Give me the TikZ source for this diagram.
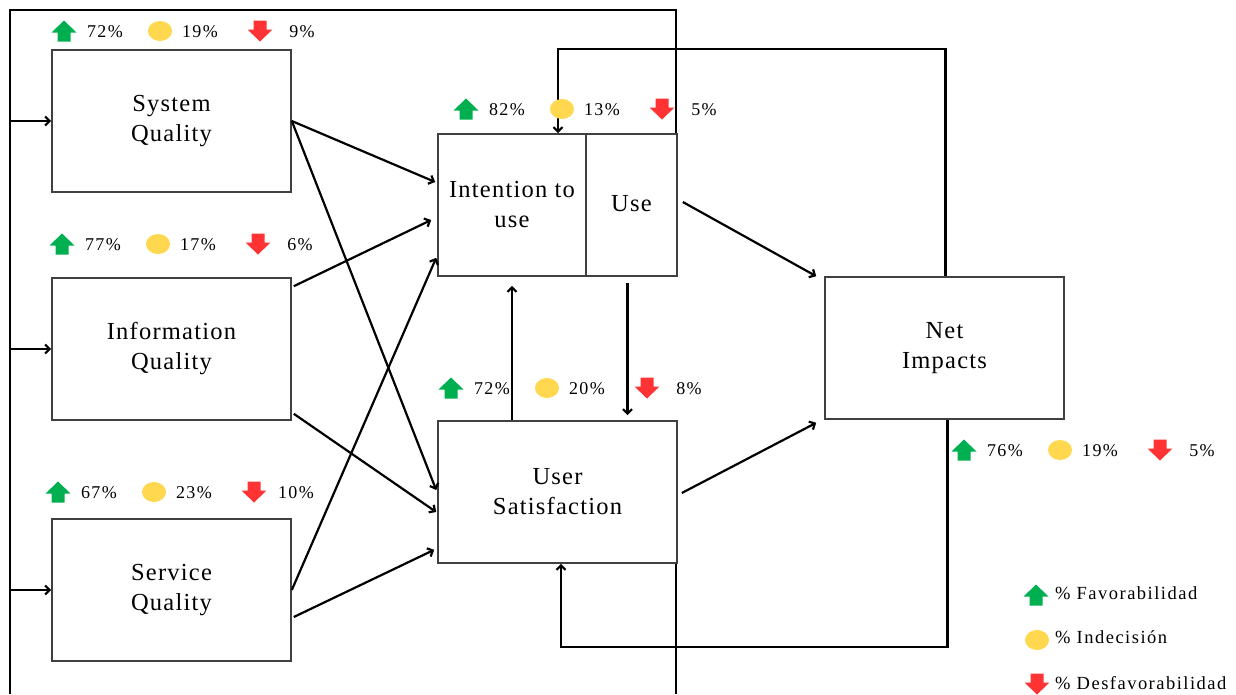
\documentclass[tikz,border=0pt]{standalone}
\usepackage{fontspec}
\setmainfont{Liberation Serif}[LetterSpace=8]
\newfontfamily\boxfont{Liberation Serif}[LetterSpace=5]
\usetikzlibrary{arrows.meta,calc}
\definecolor{upgreen}{HTML}{00B050}
\definecolor{midyellow}{HTML}{FFD850}
\definecolor{downred}{HTML}{FF3333}
\definecolor{boxline}{HTML}{404040}

% one row of survey shares: favourable / undecided / unfavourable
\newcommand\statrow[6]{%
  \pic at (#2,#3) {upicon};
  \node[pct] (#1-fav) at (#2+41,#3+6) {#4\%};
  \pic at (#2+96,#3) {dotpic};
  \node[pct] (#1-ind) at (#2+136,#3+6) {#5\%};
  \pic at (#2+196,#3) {downicon};
  \node[pct] (#1-des) at (#2+238,#3+6) {#6\%};
}

\begin{document}
\begin{tikzpicture}[x=1pt,y=-1pt,
  block/.style={draw=boxline,line width=1.6pt,minimum height=142pt,
    inner sep=0pt,align=center,font=\boxfont\fontsize{24.5}{30}\selectfont},
  conn/.style={line width=2.2pt,black},
  arr/.style={conn,-{Straight Barb[length=4.5pt,width=9pt]}},
  pct/.style={anchor=base,inner sep=0pt,font=\fontsize{18}{20}\selectfont},
  legtxt/.style={anchor=base west,inner sep=0pt,font=\fontsize{18.5}{20}\selectfont},
  upicon/.pic={\fill[upgreen] (0,-10.5) -- (12.5,1.5) -- (6.5,1.5) -- (6.5,10.5)
    -- (-6.5,10.5) -- (-6.5,1.5) -- (-12.5,1.5) -- cycle;},
  downicon/.pic={\fill[downred] (0,10.5) -- (12.5,-1.5) -- (6.5,-1.5) -- (6.5,-10.5)
    -- (-6.5,-10.5) -- (-6.5,-1.5) -- (-12.5,-1.5) -- cycle;},
  dotpic/.pic={\fill[midyellow] (0,0) ellipse [x radius=12, y radius=10];},
]
\path[use as bounding box] (0,0) rectangle (1236,694);

% boxes of the model
\node[block,minimum width=239pt] (sysq) at (171.5,121) {System\\Quality};
\node[block,minimum width=239pt] (infq) at (171.5,349) {Information\\Quality};
\node[block,minimum width=239pt] (serq) at (171.5,590) {Service\\Quality};
\node[block,minimum width=148pt] (itu) at (512,205) {Intention to\\use};
\node[block,minimum width=91pt] (use) at (631.5,205) {\raisebox{3pt}{Use}};
\node[block,minimum width=239pt] (us) at (557.5,492) {User\\Satisfaction};
\node[block,minimum width=239pt] (ni) at (944.5,348) {Net\\Impacts};

% outer frame line
\coordinate (lb) at (10,694);
\coordinate (lt) at (10,10);
\coordinate (rt) at (676,10);
\coordinate (rb) at (676,694);
\draw[conn] (lb) -- (lt) -- (rt) -- (rt |- use.north);
\draw[conn] (rt |- us.south) -- (rb);

% inputs from the frame
\draw[arr] (lb |- sysq.west) -- (sysq.west);
\draw[arr] (lb |- infq.west) -- (infq.west);
\draw[arr] (lb |- serq.west) -- (serq.west);

% quality dimensions to use and satisfaction
\draw[arr] (sysq.east) -- ($(itu.west)+(-2,-23)$);
\draw[arr] (sysq.east) -- ($(us.west)+(-1,-2)$);
\draw[arr] ($(infq.north east)+(2,9)$) -- ($(itu.west)+(-6,15)$);
\draw[arr] ($(infq.south east)+(2,-7)$) -- ($(us.west)+(-1,20)$);
\draw[arr] (serq.east) -- ($(itu.south west)+(-1,-19)$);
\draw[arr] ($(serq.east)+(2,27)$) -- ($(us.south west)+(-3,-14)$);

% between use and satisfaction
\draw[arr] (itu.south |- us.north) -- ($(itu.south)+(0,9)$);
\draw[arr] ($(use.south)+(-4,6)$) -- ($(use.south |- us.north)+(-4,-5)$);

% towards net impacts
\draw[arr] ($(use.east)+(5,-3)$) -- ($(ni.north west)+(-8,0)$);
\draw[arr] ($(us.east)+(4,1)$) -- ($(ni.south west)+(-8,3)$);

% feedback loops from net impacts
\coordinate (topturn) at (558,49);
\draw[arr] ($(ni.north)+(1,0)$) |- (topturn) -- (topturn |- itu.north);
\coordinate (botturn) at (561,647);
\draw[arr] ($(ni.south)+(3,0)$) |- (botturn) -- (botturn |- us.south);

% survey shares
\statrow{sysq}{64}{31}{72}{19}{9}
\statrow{infq}{62}{244}{77}{17}{6}
\statrow{serq}{58}{492}{67}{23}{10}
\statrow{itu}{466}{109}{82}{13}{5}
\statrow{us}{451}{388}{72}{20}{8}
\statrow{ni}{964}{450}{76}{19}{5}

% legend
\pic at (1036,595) {upicon};
\node[legtxt] (leg-fav) at (1055,599) {\% Favorabilidad};
\pic at (1037,640) {dotpic};
\node[legtxt] (leg-ind) at (1055,643) {\% Indecisión};
\pic at (1037,684) {downicon};
\node[legtxt] (leg-des) at (1055,689) {\% Desfavorabilidad};
\end{tikzpicture}
\end{document}
